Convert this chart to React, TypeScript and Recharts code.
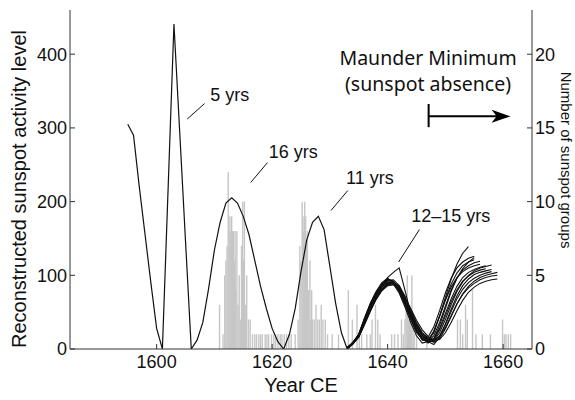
import React from "react";
import {
  ComposedChart,
  Line,
  Bar,
  XAxis,
  YAxis,
  ReferenceLine,
  ReferenceDot,
} from "recharts";

// reconstructed activity level, one value a year
const mainYears = [
  1595, 1596, 1597, 1598, 1599, 1600, 1601, 1602, 1603, 1604, 1605, 1606, 1607,
  1608, 1609, 1610, 1611, 1612, 1613, 1614, 1615, 1616, 1617, 1618, 1619, 1620,
  1621, 1622, 1623, 1624, 1625, 1626, 1627, 1628, 1629, 1630, 1631, 1632, 1633,
];
const mainLevel = [
  305, 290, 220, 155, 90, 28, 0, 220, 441, 294, 147, 0, 12, 36, 82, 134, 172,
  198, 205, 198, 180, 155, 120, 85, 55, 28, 10, 0, 20, 55, 105, 148, 172, 180,
  162, 112, 62, 22, 0,
];

// ensemble of reconstructions, each starting in 1633
const ensembleStart = 1633;
const ensembleRuns = [
  [0, 7, 17, 36, 55, 72, 86, 97, 104, 110, 80, 48, 25, 15, 12, 22, 45, 70, 95, 115, 130, 139],
  [1, 8, 20, 41, 61, 77, 88, 95, 92, 78, 60, 40, 22, 14, 16, 30, 52, 76, 96, 110, 118, 123, 126],
  [0, 7, 16, 34, 52, 68, 80, 88, 90, 80, 63, 42, 24, 12, 12, 24, 44, 67, 88, 103, 113, 118, 121],
  [2, 9, 19, 40, 60, 76, 87, 93, 94, 86, 68, 46, 26, 14, 10, 18, 36, 58, 80, 96, 107, 113, 117, 119],
  [1, 8, 17, 35, 53, 69, 81, 89, 88, 76, 57, 36, 18, 8, 10, 24, 45, 66, 84, 97, 105, 110, 113, 115],
  [0, 8, 17, 37, 57, 73, 84, 90, 90, 82, 66, 47, 30, 18, 12, 14, 28, 48, 68, 85, 97, 104, 108, 111, 113],
  [1, 9, 20, 42, 62, 78, 90, 96, 90, 78, 62, 44, 28, 16, 8, 12, 26, 45, 64, 80, 92, 99, 104, 107, 109],
  [2, 8, 16, 33, 51, 67, 79, 86, 90, 86, 72, 52, 32, 18, 10, 6, 16, 34, 54, 72, 86, 95, 101, 104, 106, 108],
  [0, 7, 17, 37, 56, 72, 84, 91, 89, 80, 66, 48, 31, 19, 12, 10, 18, 33, 51, 68, 81, 90, 96, 100, 103, 105],
  [1, 9, 18, 36, 54, 70, 82, 88, 89, 83, 70, 53, 36, 22, 13, 9, 14, 27, 44, 61, 75, 85, 92, 97, 100, 102, 104],
  [0, 8, 19, 40, 60, 76, 88, 94, 90, 79, 65, 49, 34, 22, 15, 12, 17, 29, 45, 61, 74, 83, 89, 94, 97, 99, 100],
  [2, 9, 17, 35, 53, 69, 80, 86, 87, 82, 70, 55, 39, 26, 17, 12, 13, 22, 36, 52, 66, 77, 84, 89, 92, 94, 95],
  [1, 8, 18, 38, 58, 74, 86, 93, 92, 81, 62, 42, 24, 13, 9, 14, 32, 55, 78, 96, 109, 118, 124],
  [0, 9, 20, 41, 60, 75, 86, 91, 91, 84, 69, 50, 32, 19, 11, 11, 22, 40, 60, 78, 91, 100, 106, 110, 112, 114],
];

// observed sunspot groups
const groupYears = [
  1610.9, 1611.5, 1611.8, 1612.0, 1612.2, 1612.4, 1612.55, 1612.7, 1612.85, 1613.0,
  1613.15, 1613.3, 1613.45, 1613.6, 1613.75, 1613.9, 1614.1, 1614.3, 1614.5, 1614.7,
  1614.9, 1615.05, 1615.2, 1615.4, 1615.6, 1615.9, 1616.2, 1616.6, 1617.0, 1617.3,
  1617.7, 1618.0, 1618.3, 1618.8, 1619.1, 1619.4, 1619.9, 1620.3, 1620.6, 1621.0,
  1621.4, 1621.7, 1622.1, 1622.5, 1622.9, 1623.3, 1624.0, 1624.5, 1624.8, 1625.0,
  1625.2, 1625.35, 1625.5, 1625.65, 1625.8, 1625.95, 1626.1, 1626.25, 1626.4, 1626.55,
  1626.7, 1626.85, 1627.0, 1627.3, 1627.6, 1627.9, 1628.2, 1628.5, 1628.8, 1629.2,
  1629.6, 1630.4, 1631.5, 1633.2, 1633.9, 1634.7, 1635.1, 1635.5, 1636.4, 1637.0,
  1637.3, 1637.9, 1638.3, 1638.7, 1640.7, 1641.2, 1641.8, 1642.4, 1642.7, 1643.0,
  1643.2, 1643.4, 1643.6, 1643.8, 1644.0, 1644.2, 1644.4, 1644.6, 1645.0, 1646.8,
  1652.1, 1652.6, 1653.0, 1653.5, 1653.8, 1654.7, 1655.3, 1656.4, 1657.8, 1659.9,
  1660.2, 1660.5, 1660.9, 1661.3,
];
const groupCounts = [
  3, 1, 5, 6, 7, 12, 8, 9, 8, 9,
  8, 8, 6, 8, 4, 8, 3, 5, 2, 7,
  10, 6, 10, 3, 5, 2, 2, 1, 1, 1,
  1, 1, 1, 1, 1, 1, 1, 1, 1, 1,
  1, 1, 1, 1, 1, 1, 1, 2, 7, 6,
  10, 9, 8, 10, 9, 7, 8, 4, 4, 6,
  2, 4, 2, 2, 3, 2, 2, 3, 2, 2,
  1, 1, 1, 4, 2, 3, 1, 1, 1, 1,
  2, 3, 2, 1, 1, 1, 1, 2, 1, 2,
  3, 5, 2, 3, 2, 5, 2, 1, 1, 1,
  2, 2, 1, 3, 2, 4, 1, 1, 1, 2,
  1, 1, 1, 1,
];

const yearTicks = [1600, 1620, 1640, 1660];
const levelTicks = [0, 100, 200, 300, 400];
const groupTicks = [0, 5, 10, 15, 20];

const SANS = '"Liberation Sans", Arial, sans-serif';
const HUMANIST = '"Noto Sans", sans-serif';

type Row = { year: number; [key: string]: number | undefined };

function buildRows(): Row[] {
  const rows = new Map<number, Row>();
  const at = (y: number) => {
    const k = Math.round(y * 100) / 100;
    let r = rows.get(k);
    if (!r) {
      r = { year: k };
      rows.set(k, r);
    }
    return r;
  };
  mainYears.forEach((y, i) => {
    at(y).main = mainLevel[i];
  });
  ensembleRuns.forEach((run, k) =>
    run.forEach((v, i) => {
      at(ensembleStart + i)[`run${k}`] = v;
    })
  );
  groupYears.forEach((y, i) => {
    at(y).groups = groupCounts[i];
  });
  return [...rows.values()].sort((a, b) => a.year - b.year);
}

const rows = buildRows();

// fixed-width thin bar, centred on its year
const thinBar = (p: any) =>
  p.height > 0 ? (
    <rect
      x={p.x + p.width / 2 - 0.7}
      y={p.y}
      width={1.4}
      height={p.height}
      fill="#c6c6c6"
    />
  ) : null;

const note = (text: string, font = SANS, size = 18, anchor = "start") =>
  (p: any) => (
    <text
      x={p.cx}
      y={p.cy}
      fontFamily={font}
      fontSize={size}
      textAnchor={anchor}
      fill="#111"
    >
      {text}
    </text>
  );

const arrowHead = (p: any) => (
  <polygon
    points={`${p.cx},${p.cy} ${p.cx - 19},${p.cy - 6.5} ${p.cx - 14},${p.cy} ${p.cx - 19},${p.cy + 6.5}`}
    fill="#000"
  />
);

const tickStyle = { fontSize: 18, fill: "#111", fontFamily: SANS };

export default function App() {
  return (
    <div
      style={{
        position: "absolute",
        left: 0,
        top: 0,
        width: 575,
        height: 400,
        background: "#fff",
      }}
    >
      <ComposedChart
        width={575}
        height={400}
        data={rows}
        margin={{ top: 10, right: 0, bottom: 0, left: 0 }}
      >
        <XAxis
          dataKey="year"
          type="number"
          domain={[1585, 1665]}
          ticks={yearTicks}
          allowDataOverflow
          interval={0}
          height={51}
          tickSize={-5}
          tickMargin={11}
          stroke="#333"
          tick={tickStyle}
        />
        <XAxis
          xAxisId="top"
          orientation="top"
          dataKey="year"
          type="number"
          domain={[1585, 1665]}
          ticks={yearTicks}
          allowDataOverflow
          interval={0}
          height={0}
          tickSize={-5}
          tickFormatter={() => ""}
          stroke="#333"
        />
        <YAxis
          yAxisId="left"
          type="number"
          domain={[0, 460]}
          ticks={levelTicks}
          allowDataOverflow
          interval={0}
          width={70}
          tickSize={-5}
          tickMargin={8}
          stroke="#333"
          tick={tickStyle}
        />
        <YAxis
          yAxisId="right"
          orientation="right"
          type="number"
          domain={[0, 23]}
          ticks={groupTicks}
          allowDataOverflow
          interval={0}
          width={43}
          tickSize={-5}
          tickMargin={8}
          stroke="#333"
          tick={tickStyle}
        />

        <Bar
          dataKey="groups"
          yAxisId="right"
          fill="#c6c6c6"
          barSize={1}
          shape={thinBar}
          isAnimationActive={false}
        />

        <Line
          dataKey="main"
          yAxisId="left"
          type="linear"
          stroke="#111"
          strokeWidth={1.2}
          dot={false}
          connectNulls
          isAnimationActive={false}
        />
        {ensembleRuns.map((_, k) => (
          <Line
            key={k}
            dataKey={`run${k}`}
            yAxisId="left"
            type="linear"
            stroke="#111"
            strokeWidth={1.1}
            dot={false}
            connectNulls
            isAnimationActive={false}
          />
        ))}

        {/* leader lines and period notes */}
        <ReferenceLine yAxisId="left" ifOverflow="visible" stroke="#111"
          segment={[{ x: 1605.3, y: 312 }, { x: 1608.3, y: 333 }]} />
        <ReferenceLine yAxisId="left" ifOverflow="visible" stroke="#111"
          segment={[{ x: 1616.3, y: 226 }, { x: 1619.2, y: 253 }]} />
        <ReferenceLine yAxisId="left" ifOverflow="visible" stroke="#111"
          segment={[{ x: 1630.2, y: 188 }, { x: 1633.1, y: 215 }]} />
        <ReferenceLine yAxisId="left" ifOverflow="visible" stroke="#111"
          segment={[{ x: 1641.9, y: 118 }, { x: 1645.5, y: 162 }]} />
        <ReferenceDot yAxisId="left" x={1609.3} y={336} shape={note("5 yrs")} />
        <ReferenceDot yAxisId="left" x={1619.4} y={259} shape={note("16 yrs")} />
        <ReferenceDot yAxisId="left" x={1632.8} y={224} shape={note("11 yrs")} />
        <ReferenceDot yAxisId="left" x={1644.1} y={173} shape={note("12–15 yrs")} />

        {/* Maunder Minimum marker */}
        <ReferenceDot yAxisId="left" x={1647} y={386}
          shape={note("Maunder Minimum", HUMANIST, 19.5, "middle")} />
        <ReferenceDot yAxisId="left" x={1647} y={350.5}
          shape={note("(sunspot absence)", HUMANIST, 19.5, "middle")} />
        <ReferenceLine yAxisId="left" ifOverflow="visible" stroke="#000" strokeWidth={2}
          segment={[{ x: 1647.1, y: 301 }, { x: 1647.1, y: 332.5 }]} />
        <ReferenceLine yAxisId="left" ifOverflow="visible" stroke="#000" strokeWidth={2}
          segment={[{ x: 1647.1, y: 315.7 }, { x: 1659.5, y: 315.7 }]} />
        <ReferenceDot yAxisId="left" x={1661.3} y={315.7} shape={arrowHead} />
      </ComposedChart>

      <svg
        width={575}
        height={400}
        style={{ position: "absolute", left: 0, top: 0, pointerEvents: "none" }}
      >
        <text x={301} y={392} fontFamily={SANS} fontSize={20} textAnchor="middle" fill="#111">
          Year CE
        </text>
        <text transform="translate(26,189) rotate(-90)" fontFamily={SANS} fontSize={20}
          textAnchor="middle" fill="#111">
          Reconstructed sunspot activity level
        </text>
        <text transform="translate(561,160) rotate(90)" fontFamily={SANS} fontSize={15}
          textAnchor="middle" fill="#111">
          Number of sunspot groups
        </text>
      </svg>
    </div>
  );
}
